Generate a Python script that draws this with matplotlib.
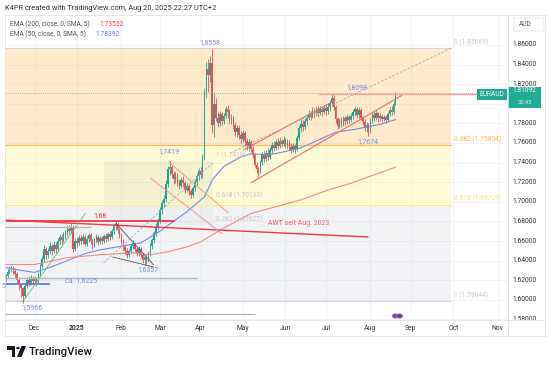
import matplotlib
matplotlib.use('Agg')
import matplotlib.pyplot as plt
import numpy as np
import pandas as pd
from matplotlib.patches import Rectangle, Polygon, Circle, FancyBboxPatch
import matplotlib.transforms as mtrans

plt.rcParams['font.family'] = ['Roboto', 'DejaVu Sans']

# ---------------- data ----------------
start_date = '2024-11-11'
first_open = 1.620
closes = [
    1.624, 1.628, 1.631, 1.633, 1.629,
    1.626, 1.620, 1.615, 1.612, 1.604,
    1.614, 1.620, 1.617, 1.622, 1.619,
    1.621, 1.618, 1.626, 1.634, 1.642,
    1.652, 1.646, 1.650, 1.655, 1.650,
    1.656, 1.652, 1.660, 1.664, 1.661,
    1.666, 1.668, 1.672, 1.670, 1.674,
    1.652, 1.660, 1.658, 1.663, 1.660,
    1.664, 1.657, 1.662, 1.666, 1.660,
    1.656, 1.661, 1.664, 1.659, 1.663,
    1.660, 1.665, 1.662, 1.667, 1.664,
    1.670, 1.675, 1.677, 1.671, 1.666,
    1.660, 1.654, 1.650, 1.646, 1.650,
    1.655, 1.658, 1.652, 1.648, 1.652,
    1.646, 1.641, 1.644, 1.640, 1.648,
    1.655, 1.661, 1.668, 1.674, 1.680,
    1.692, 1.699, 1.703, 1.718, 1.733,
    1.736, 1.728, 1.723, 1.727, 1.720,
    1.716, 1.722, 1.719, 1.712, 1.716,
    1.711, 1.707, 1.714, 1.720, 1.726,
    1.731, 1.727, 1.745, 1.812, 1.836,
    1.829, 1.842, 1.778, 1.800, 1.786,
    1.780, 1.790, 1.782, 1.788, 1.795,
    1.792, 1.783, 1.786, 1.778, 1.771,
    1.775, 1.768, 1.764, 1.770, 1.762,
    1.757, 1.761, 1.754, 1.748, 1.738,
    1.733, 1.730, 1.741, 1.748, 1.744,
    1.750, 1.746, 1.753, 1.758, 1.755,
    1.761, 1.757, 1.762, 1.759, 1.763,
    1.758, 1.761, 1.756, 1.753, 1.757,
    1.754, 1.765, 1.775, 1.779, 1.776,
    1.782, 1.786, 1.790, 1.787, 1.793,
    1.790, 1.794, 1.791, 1.795, 1.792,
    1.796, 1.793, 1.797, 1.801, 1.806,
    1.797, 1.784, 1.777, 1.783, 1.780,
    1.785, 1.782, 1.787, 1.783, 1.788,
    1.792, 1.795, 1.789, 1.794, 1.786,
    1.781, 1.775, 1.778, 1.772, 1.782,
    1.789, 1.786, 1.791, 1.785, 1.788,
    1.784, 1.787, 1.783, 1.790, 1.794,
    1.792, 1.800, 1.81092,
]
highs = [
    1.626, 1.631, 1.634, 1.636, 1.635,
    1.632, 1.628, 1.622, 1.616, 1.613,
    1.617, 1.623, 1.624, 1.625, 1.624,
    1.624, 1.623, 1.628, 1.637, 1.645,
    1.656, 1.654, 1.653, 1.659, 1.657,
    1.660, 1.659, 1.663, 1.667, 1.667,
    1.669, 1.671, 1.675, 1.676, 1.678,
    1.676, 1.663, 1.664, 1.666, 1.666,
    1.667, 1.666, 1.665, 1.668, 1.668,
    1.662, 1.663, 1.667, 1.666, 1.665,
    1.665, 1.667, 1.668, 1.669, 1.670,
    1.672, 1.677, 1.6805, 1.679, 1.673,
    1.668, 1.662, 1.657, 1.653, 1.652,
    1.658, 1.661, 1.659, 1.654, 1.655,
    1.654, 1.648, 1.646, 1.647, 1.650,
    1.658, 1.663, 1.670, 1.678, 1.683,
    1.695, 1.702, 1.707, 1.722, 1.737,
    1.7419, 1.738, 1.731, 1.730, 1.729,
    1.723, 1.725, 1.726, 1.721, 1.719,
    1.718, 1.713, 1.716, 1.723, 1.729,
    1.734, 1.735, 1.749, 1.816, 1.843,
    1.846, 1.849, 1.8558, 1.812, 1.806,
    1.792, 1.793, 1.792, 1.791, 1.798,
    1.799, 1.795, 1.790, 1.788, 1.781,
    1.778, 1.778, 1.772, 1.773, 1.772,
    1.765, 1.764, 1.763, 1.757, 1.750,
    1.741, 1.736, 1.743, 1.751, 1.752,
    1.753, 1.755, 1.756, 1.761, 1.762,
    1.764, 1.765, 1.766, 1.764, 1.767,
    1.765, 1.764, 1.763, 1.760, 1.760,
    1.759, 1.768, 1.778, 1.784, 1.783,
    1.786, 1.789, 1.794, 1.793, 1.797,
    1.796, 1.797, 1.798, 1.798, 1.797,
    1.799, 1.800, 1.801, 1.804, 1.8098,
    1.809, 1.799, 1.787, 1.786, 1.787,
    1.788, 1.788, 1.790, 1.789, 1.791,
    1.795, 1.798, 1.797, 1.797, 1.796,
    1.788, 1.784, 1.781, 1.780, 1.785,
    1.792, 1.793, 1.794, 1.792, 1.791,
    1.790, 1.789, 1.789, 1.792, 1.797,
    1.798, 1.803, 1.8125,
]
lows = [
    1.619, 1.622, 1.626, 1.628, 1.626,
    1.623, 1.617, 1.610, 1.603, 1.5966,
    1.603, 1.612, 1.614, 1.615, 1.615,
    1.616, 1.614, 1.617, 1.624, 1.632,
    1.640, 1.642, 1.643, 1.647, 1.646,
    1.648, 1.648, 1.650, 1.657, 1.657,
    1.659, 1.662, 1.665, 1.667, 1.668,
    1.649, 1.650, 1.654, 1.656, 1.657,
    1.657, 1.655, 1.655, 1.659, 1.657,
    1.652, 1.654, 1.658, 1.656, 1.657,
    1.657, 1.658, 1.659, 1.660, 1.661,
    1.662, 1.667, 1.671, 1.668, 1.663,
    1.657, 1.651, 1.647, 1.643, 1.644,
    1.648, 1.652, 1.649, 1.645, 1.645,
    1.643, 1.638, 1.6357, 1.637, 1.639,
    1.645, 1.652, 1.658, 1.665, 1.671,
    1.678, 1.688, 1.695, 1.700, 1.715,
    1.727, 1.724, 1.718, 1.719, 1.716,
    1.713, 1.714, 1.715, 1.709, 1.710,
    1.707, 1.704, 1.705, 1.711, 1.717,
    1.722, 1.724, 1.724, 1.743, 1.806,
    1.812, 1.822, 1.770, 1.766, 1.782,
    1.776, 1.777, 1.778, 1.779, 1.785,
    1.786, 1.780, 1.779, 1.774, 1.767,
    1.766, 1.764, 1.760, 1.761, 1.757,
    1.753, 1.752, 1.751, 1.745, 1.735,
    1.729, 1.725, 1.728, 1.738, 1.741,
    1.742, 1.743, 1.744, 1.750, 1.752,
    1.753, 1.754, 1.755, 1.756, 1.757,
    1.755, 1.754, 1.753, 1.750, 1.751,
    1.750, 1.752, 1.763, 1.771, 1.772,
    1.774, 1.778, 1.783, 1.783, 1.785,
    1.786, 1.788, 1.787, 1.789, 1.788,
    1.790, 1.789, 1.790, 1.793, 1.798,
    1.794, 1.780, 1.774, 1.775, 1.776,
    1.777, 1.778, 1.779, 1.780, 1.781,
    1.784, 1.788, 1.786, 1.786, 1.783,
    1.778, 1.772, 1.771, 1.7674, 1.770,
    1.780, 1.782, 1.783, 1.781, 1.782,
    1.781, 1.782, 1.780, 1.782, 1.788,
    1.789, 1.790, 1.799,
]

# indicator lines (bar index, value)
ema50_idx = [0, 8, 15, 23, 32, 41, 49, 58, 70, 80, 94, 103, 107, 113, 122, 127, 136, 142, 153, 171, 181, 194, 202]
ema50_val = [1.633, 1.630, 1.628, 1.633, 1.640, 1.647, 1.651, 1.654, 1.658, 1.670, 1.690, 1.705, 1.722, 1.736, 1.746, 1.749, 1.748, 1.750, 1.755, 1.771, 1.774, 1.779, 1.78392]
ema200_idx = [0, 15, 32, 49, 66, 75, 84, 94, 101, 111, 127, 153, 167, 179, 202]
ema200_val = [1.636, 1.636, 1.643, 1.646, 1.648, 1.646, 1.649, 1.654, 1.659, 1.671, 1.688, 1.702, 1.712, 1.719, 1.73532]

price_ticks = [1.86, 1.84, 1.82, 1.80, 1.78, 1.76, 1.74, 1.72, 1.70, 1.68, 1.66, 1.64, 1.62, 1.60, 1.58]
month_names = ['Dec', '2025', 'Feb', 'Mar', 'Apr', 'May', 'Jun', 'Jul', 'Aug', 'Sep', 'Oct', 'Nov']
month_keys = [(2024, 12), (2025, 1), (2025, 2), (2025, 3), (2025, 4), (2025, 5), (2025, 6),
              (2025, 7), (2025, 8), (2025, 9), (2025, 10), (2025, 11)]

fib_main_levels = [1.85669, 1.75804, 1.69709, 1.59844]
fib_main_labels = ['0 (1.85669)', '0.382 (1.75804)', '0.618 (1.69709)', '1 (1.59844)']
fib_small_levels = [1.7419, 1.70133, 1.67627]
fib_small_labels = ['1 (1.7419)', '0.618 (1.70133)', '0.382 (1.67627)']

last_price = 1.81092

# ---------------- figure ----------------
W, H = 550, 368
fig = plt.figure(figsize=(W / 100, H / 100), dpi=100)
fig.patch.set_facecolor('white')

def fx(x):
    return x / W

def fy(y):
    return 1 - y / H

ax = fig.add_axes([fx(5), fy(320), (508 - 5) / W, (320 - 15) / H])
ax.set_facecolor('white')
n = len(closes)
idx = np.arange(n)
ax.set_xlim(-0.3, 260.3)
ax.set_ylim(1.57939, 1.89061)
ax.axis('off')

dates = pd.bdate_range(start_date, periods=280)
month_idx = []
for (yy, mm) in month_keys:
    m = np.where((dates.year == yy) & (dates.month == mm))[0]
    month_idx.append(int(m[0]))

# grid
for mi in month_idx:
    ax.axvline(mi, color='#f0f3fa', lw=0.6, zorder=0.5)
for p in price_ticks:
    ax.axhline(p, color='#f0f3fa', lw=0.6, zorder=0.5)

# main fib zones
fx0, fx1 = -2, 231
ax.fill_between([fx0, fx1], fib_main_levels[1], fib_main_levels[0], color='#ff9800', alpha=0.2, lw=0, zorder=1)
ax.fill_between([fx0, fx1], fib_main_levels[2], fib_main_levels[1], color='#ffeb3b', alpha=0.2, lw=0, zorder=1)
ax.fill_between([fx0, fx1], fib_main_levels[3], fib_main_levels[2], color='#787b86', alpha=0.09, lw=0, zorder=1)
lvl_cols = ['#d1d4dc', '#ffb74d', '#fff176', '#d1d4dc']
txt_cols = ['#c5c8d0', '#ffb74d', '#f5e07a', '#c5c8d0']
for lv, lc, tc, lab in zip(fib_main_levels, lvl_cols, txt_cols, fib_main_labels):
    ax.plot([fx0, fx1], [lv, lv], color=lc, lw=0.8, zorder=1.5)
    ax.text(fx1 + 1.5, lv + 0.002, lab, color=tc, fontsize=4.8, ha='left', va='bottom', zorder=6)

# small fib zones
sx0, sx1 = 50.8, 107.3
ax.fill_between([sx0, sx1], fib_small_levels[1], fib_small_levels[0], color='#787b86', alpha=0.08, lw=0, zorder=1.2)
ax.fill_between([sx0, sx1], fib_small_levels[2], fib_small_levels[1], color='#787b86', alpha=0.04, lw=0, zorder=1.2)
for lv, lab in zip(fib_small_levels, fib_small_labels):
    ax.text(sx1 + 1.5, lv + 0.0015, lab, color='#c0c3cb', fontsize=4.7, ha='left', va='bottom', zorder=6)

# candles
opens = [first_open] + closes[:-1]
o = np.array(opens); c = np.array(closes); h = np.array(highs); l = np.array(lows)
upc, dnc = '#1fa58f', '#f04a55'
cols = np.where(c >= o, upc, dnc)
ax.vlines(idx, l, h, colors=cols, lw=0.6, zorder=3)
body_b = np.minimum(o, c)
body_h = np.maximum(np.abs(c - o), 0.0008)
ax.bar(idx, body_h, bottom=body_b, width=0.82, color=cols, lw=0, zorder=3.1)

# EMAs
ax.plot(ema50_idx, ema50_val, color='#6f8de6', lw=0.8, zorder=3.5)
ax.plot(ema200_idx, ema200_val, color='#f58a84', lw=0.8, zorder=3.5)

# drawings
def seg(i0, p0, i1, p1, **kw):
    ax.plot([i0, i1], [p0, p1], solid_capstyle='butt', **kw)

seg(0, 1.6800, 88, 1.6800, color='#f23645', lw=1.3, zorder=4)
seg(-1, 1.6746, 44, 1.6746, color='#b2b5be', lw=0.9, zorder=4)
seg(-1, 1.6814, 188, 1.6641, color='#f23645', lw=1.0, zorder=4)
seg(-1, 1.6225, 99, 1.6225, color='#b2b5be', lw=1.0, zorder=4)
seg(-1, 1.6161, 23, 1.6161, color='#5b7de8', lw=1.3, zorder=4)
seg(-1, 1.5855, 129, 1.5855, color='#b2b5be', lw=0.9, zorder=4)
seg(8.8, 1.5978, 41.5, 1.6886, color='#66bb6a', lw=0.6, zorder=4)
seg(57, 1.6784, 76.7, 1.6355, color='#555555', lw=0.6, zorder=4)
seg(55.4, 1.6437, 76.7, 1.6335, color='#555555', lw=0.6, zorder=4)
seg(84.5, 1.7406, 115.5, 1.6886, color='#f7a072', lw=0.7, zorder=4)
seg(75, 1.7243, 112.4, 1.6671, color='#f48fa0', lw=0.7, zorder=4)
seg(123.3, 1.7529, 171, 1.8039, color='#f26a6a', lw=0.8, zorder=4)
seg(127, 1.7192, 205.7, 1.8090, color='#f26a6a', lw=0.8, zorder=4)
ax.plot([50.8, 107.3], [1.6376, 1.7396], color='#a6a9b3', lw=0.6, ls=(0, (3, 2)), zorder=4)
ax.plot([116.6, 231], [1.7498, 1.8569], color='#a6a9b3', lw=0.6, ls=(0, (3, 2)), zorder=4)
seg(162, 1.8098, 262, 1.8098, color='#f7a1a1', lw=1.0, zorder=4)
ax.axhline(last_price, color='#9598a1', lw=0.6, ls=(0, (1, 1.5)), zorder=4)

# annotation labels
lab_col = '#7b8ee0'
fs = 5.0
ax.text(105.7, 1.862, '1,8558', color=lab_col, fontsize=fs, ha='center', va='center', zorder=6)
ax.text(182, 1.8161, '1,8098', color=lab_col, fontsize=fs, ha='center', va='center', zorder=6)
ax.text(187.6, 1.7610, '1,7674', color=lab_col, fontsize=fs, ha='center', va='center', zorder=6)
ax.text(84.5, 1.7508, '1,7419', color=lab_col, fontsize=fs, ha='center', va='center', zorder=6)
ax.text(49, 1.6855, '1,68', color='#f23645', fontsize=fs, ha='center', va='center', zorder=6)
ax.text(73.6, 1.6304, '1,6357', color=lab_col, fontsize=fs, ha='center', va='center', zorder=6)
ax.text(39, 1.6192, 'ca. 1,6225', color=lab_col, fontsize=fs, ha='center', va='center', zorder=6)
ax.text(13.5, 1.5916, '1,5966', color=lab_col, fontsize=fs, ha='center', va='center', zorder=6)
ax.text(152, 1.6775, 'AWT seit Aug. 2023', color='#f06070', fontsize=fs, ha='center', va='center', zorder=6)
fig.text(fx(1), fy(286), '5', color=lab_col, fontsize=fs, ha='left', va='center')

# price scale
pax = fig.add_axes([fx(508), fy(320), (545 - 508) / W, (320 - 15) / H])
pax.set_xlim(0, 1); pax.set_ylim(ax.get_ylim()); pax.axis('off')
hide_clip = Rectangle((fx(508), fy(320)), 37 / W, (320 - 108) / H, transform=fig.transFigure, visible=False)
fig.patches.append(hide_clip)
for p in price_ticks:
    t = pax.text(0.13, p, f'{p:.5f}', fontsize=4.9, color='#333333', ha='left', va='center', clip_on=True)
    if abs(p - 1.80) < 1e-9:
        t.set_clip_path(hide_clip)

# current price tags
tag = '#22ab94'
fig.patches.append(Rectangle((fx(477), fy(99.5)), (507 - 477) / W, 11 / H, transform=fig.transFigure,
                             facecolor=tag, edgecolor='none'))
fig.text(fx(492), fy(94), 'EURAUD', color='white', fontsize=4.8, ha='center', va='center')
fig.patches.append(Rectangle((fx(508), fy(108)), (541 - 508) / W, 21.5 / H, transform=fig.transFigure,
                             facecolor=tag, edgecolor='none'))
fig.text(fx(524.5), fy(90.5), f'{last_price:.5f}', color='white', fontsize=4.7, ha='center', va='center')
fig.text(fx(524.5), fy(102.8), '32:43', color='#d8f2ec', fontsize=4.2, ha='center', va='center')

# AUD box
fig.patches.append(FancyBboxPatch((fx(514), fy(31)), (544 - 514) / W, 13 / H, transform=fig.transFigure,
                                  boxstyle='round,pad=0,rounding_size=0.004', facecolor='white',
                                  edgecolor='#e0e3eb', lw=0.6))
fig.text(fx(519), fy(24.5), 'AUD', color='#555555', fontsize=4.8, ha='left', va='center')

# frame lines
frame = '#e0e3eb'
def fline(x0, y0, x1, y1):
    fig.add_artist(plt.Line2D([fx(x0), fx(x1)], [fy(y0), fy(y1)], color=frame, lw=0.6, transform=fig.transFigure))
fline(5, 15, 545, 15)
fline(5, 336, 545, 336)
fline(5, 15, 5, 336)
fline(545, 15, 545, 336)
fline(5, 320, 545, 320)
fline(508, 15, 508, 336)

# time axis labels
ttr = mtrans.blended_transform_factory(ax.transData, fig.transFigure)
for mi, name in zip(month_idx, month_names):
    fig.text(mi, fy(328), name, transform=ttr, fontsize=4.9, color='#333333', ha='center', va='center',
             fontweight='bold' if name == '2025' else 'normal')

# event marker near the bottom
fig.patches.append(Circle((fx(395.5), fy(316)), 3.2 / W, transform=fig.transFigure, facecolor='#2f57c9', edgecolor='#f06070', lw=0.6))
fig.patches.append(Circle((fx(399.5), fy(316)), 3.2 / W, transform=fig.transFigure, facecolor='#2f57c9', edgecolor='#f06070', lw=0.6))

# header texts
fig.text(fx(5), fy(9), 'K4PR created with TradingView.com, Aug 20, 2025 22:27 UTC+2', fontsize=5.3,
         color='#333333', ha='left', va='center')
fig.text(fx(10), fy(24), 'EMA (200, close, 0, SMA, 5)', fontsize=4.8, color='#555555', ha='left', va='center')
fig.text(fx(99), fy(24), '1.73532', fontsize=4.8, color='#f23645', ha='left', va='center')
fig.text(fx(10), fy(34), 'EMA (50, close, 0, SMA, 5)', fontsize=4.8, color='#555555', ha='left', va='center')
fig.text(fx(95), fy(34), '1.78392', fontsize=4.8, color='#5b7de8', ha='left', va='center')

# TradingView logo
lg = '#131722'
fig.patches.append(Polygon([(fx(7), fy(346)), (fx(15), fy(346)), (fx(15), fy(357)), (fx(11.5), fy(357)),
                            (fx(11.5), fy(349.5)), (fx(7), fy(349.5))], closed=True, transform=fig.transFigure,
                           facecolor=lg, edgecolor='none'))
fig.patches.append(Circle((fx(18), fy(348)), 1.8 / W, transform=fig.transFigure, facecolor=lg, edgecolor='none'))
fig.patches.append(Polygon([(fx(21.5), fy(346)), (fx(26), fy(346)), (fx(21.5), fy(357)), (fx(17), fy(357))],
                           closed=True, transform=fig.transFigure, facecolor=lg, edgecolor='none'))
fig.text(fx(29), fy(352), 'TradingView', fontsize=8.2, color=lg, ha='left', va='center', fontweight='medium')

fig.savefig('out.png', dpi=100, facecolor='white')
